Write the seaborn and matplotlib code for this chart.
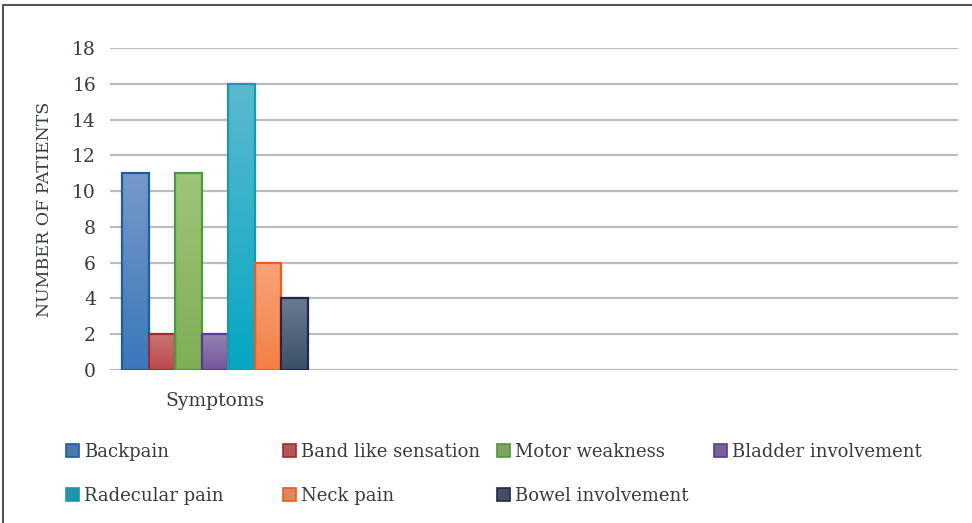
import numpy as np
import pandas as pd
import matplotlib
matplotlib.use("Agg")
import matplotlib.pyplot as plt
import matplotlib.colors as mcolors
import seaborn as sns

# ============================================================
# 1. DATA
# ============================================================

symptoms = ["Backpain", "Band like sensation", "Motor weakness", "Bladder involvement",
            "Radecular pain", "Neck pain", "Bowel involvement"]
patients = [11, 2, 11, 2, 16, 6, 4]
group = ["Symptoms"] * len(symptoms)
y_ticks = [0, 2, 4, 6, 8, 10, 12, 14, 16, 18]

# boje: vrh gradijenta, dno gradijenta, rub
top_col = ["#7599c8", "#c97373", "#9fc47a", "#9581b0", "#5ab9d0", "#f7a47a", "#6a7b92"]
bot_col = ["#3c78bb", "#bd4a4c", "#7fae55", "#7558a0", "#06a7c2", "#f47f45", "#3b5068"]
edge_col = ["#1f5ca6", "#a52a30", "#4a9b3e", "#5a3a94", "#1c99a8", "#f05a22", "#25274d"]

df = pd.DataFrame({"group": group, "symptom": symptoms, "patients": patients})

TXT = "#363d3d"

# ============================================================
# 2. PLOT
# ============================================================

sns.set_style("white")
plt.rcParams["font.family"] = ["DejaVu Serif"]
plt.rcParams["text.color"] = TXT

fig = plt.figure(figsize=(9.72, 5.23), dpi=100)
ax = fig.add_axes([110 / 972, 1 - 370 / 523, 848 / 972, 322 / 523])

sns.barplot(data=df, x="group", y="patients", hue="symptom", hue_order=symptoms,
            palette=bot_col, width=0.8, ax=ax, legend=True)

handles, labels = ax.get_legend_handles_labels()
ax.get_legend().remove()

# gradijent i rub na svakom stupcu
for bar, tc, bc, ec in zip(ax.patches, top_col, bot_col, edge_col):
    bar.set_edgecolor(ec)
    bar.set_linewidth(1.6)
    x0, y0 = bar.get_x(), bar.get_y()
    w, h = bar.get_width(), bar.get_height()
    cmap = mcolors.LinearSegmentedColormap.from_list("g", [bc, tc])
    grad = np.linspace(0, 1, 64).reshape(-1, 1)
    im = ax.imshow(grad, cmap=cmap, aspect="auto", origin="lower",
                   extent=[x0, x0 + w, y0, y0 + h], zorder=bar.get_zorder())
    im.set_clip_path(bar)
    bar.set_facecolor("none")
    bar.set_zorder(bar.get_zorder() + 0.5)

for h, ec in zip(handles, edge_col):
    h.set_edgecolor(ec)
    h.set_linewidth(1.2)

ax.set_xlim(-0.4516, 3.196)
ax.set_ylim(0, 18)
ax.set_yticks(y_ticks)
ax.yaxis.grid(True, color="#bcbcbc", linewidth=1.6)
ax.set_axisbelow(True)
for s in ax.spines.values():
    s.set_visible(False)
ax.tick_params(axis="both", length=0, labelsize=13.5, colors=TXT)
ax.tick_params(axis="y", pad=10)
ax.tick_params(axis="x", pad=16)
ax.set_xlabel("")
ax.set_ylabel("NUMBER OF PATIENTS", fontsize=12.5, color=TXT)
ax.yaxis.label.set_va("center")
ax.yaxis.set_label_coords(-66 / 848, 0.5)

# legenda u 4 stupca jednake sirine
col_x = [66, 283, 497, 714]
for c in range(4):
    idx = [c, c + 4] if c + 4 < len(handles) else [c]
    fig.legend([handles[i] for i in idx], [labels[i] for i in idx],
               loc="upper left", bbox_to_anchor=(col_x[c] / 972, 1 - 443 / 523),
               frameon=False, fontsize=13, handlelength=0.7, handleheight=0.7,
               handletextpad=0.3, labelspacing=1.44, borderaxespad=0, borderpad=0,
               labelcolor=TXT)

# okvir slike (lijevo i gore)
fig.add_artist(plt.Line2D([3 / 972, 3 / 972], [0, 1 - 5 / 523], color="#555555", lw=1.5))
fig.add_artist(plt.Line2D([3 / 972, 1], [1 - 5 / 523, 1 - 5 / 523], color="#555555", lw=1.5))

plt.savefig("out.png", dpi=100)
